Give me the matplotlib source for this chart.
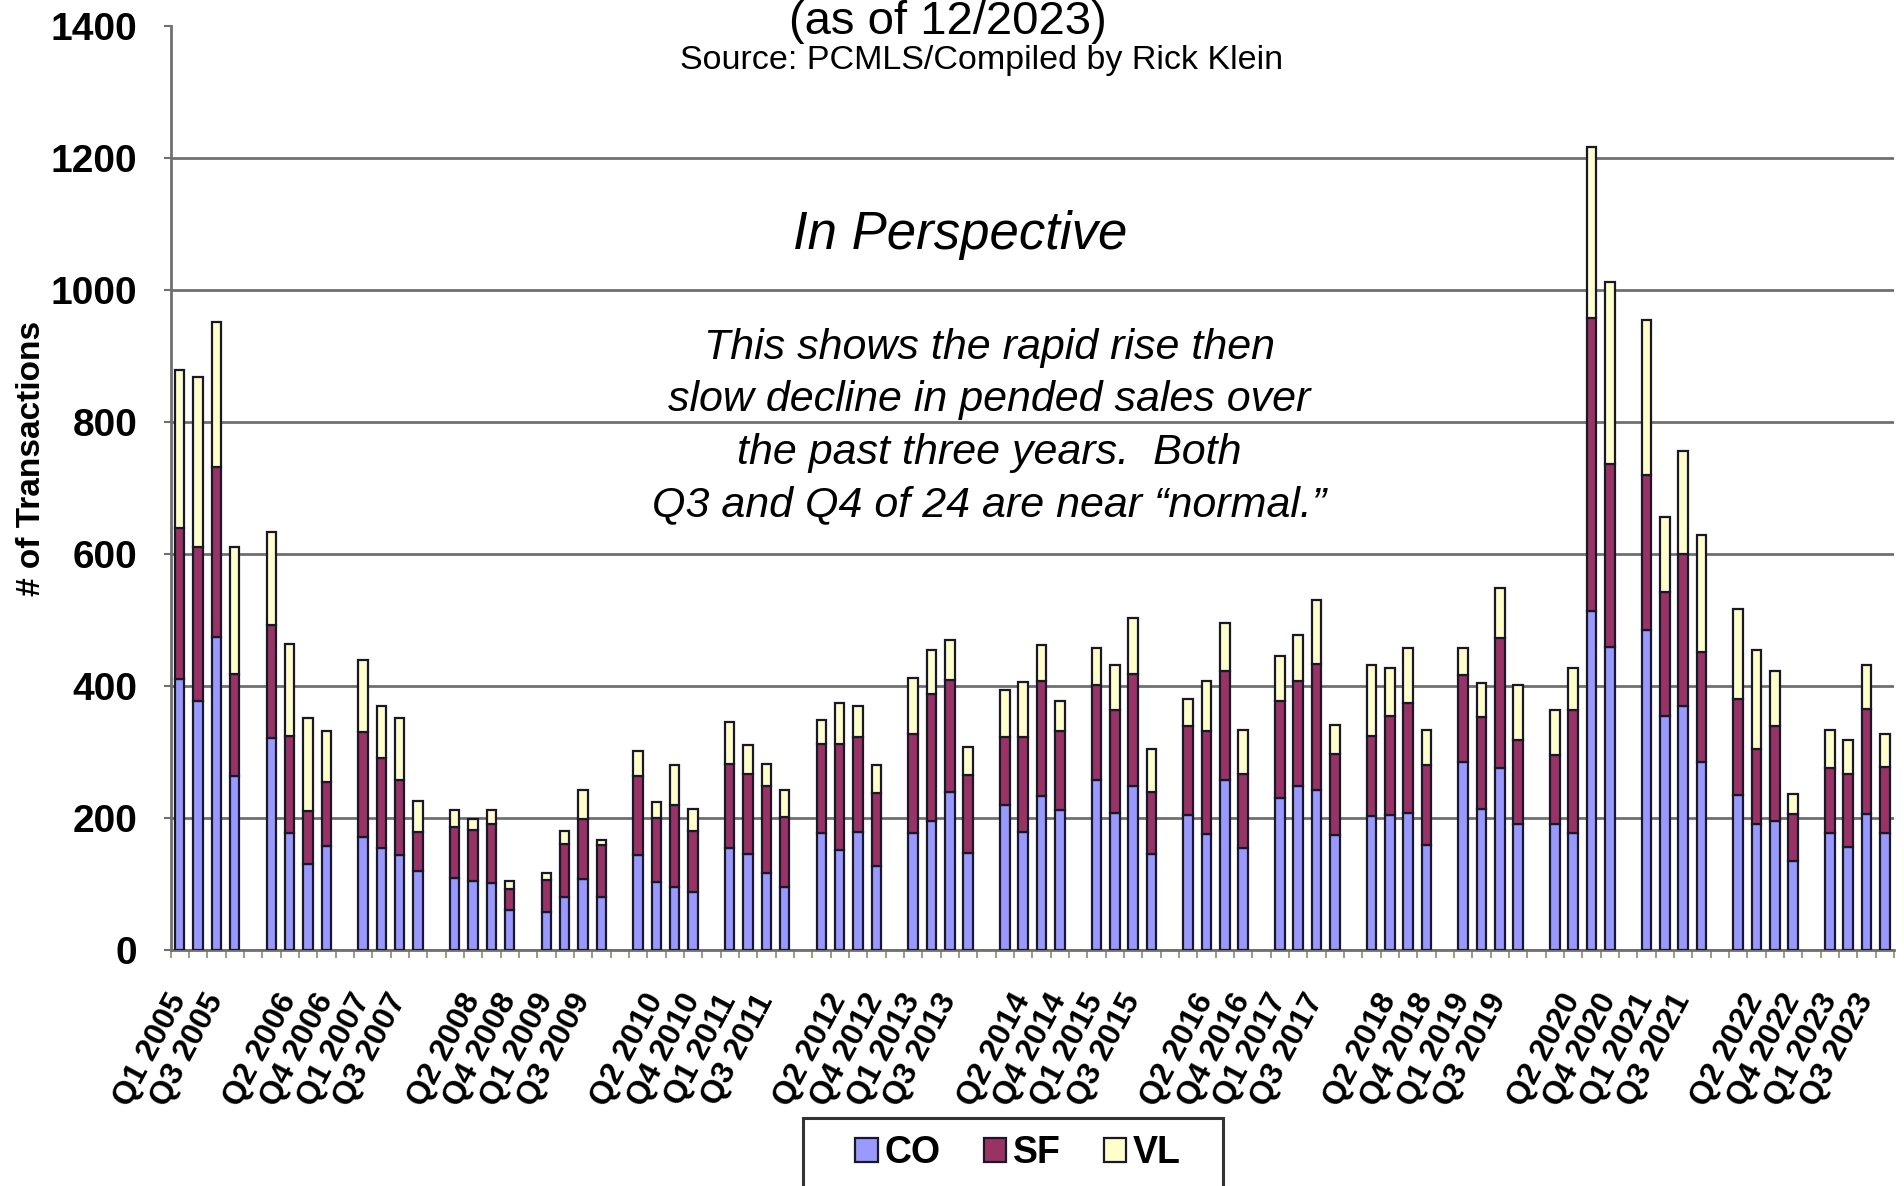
import matplotlib
matplotlib.use('Agg')
import matplotlib.pyplot as plt
import matplotlib.transforms as mtransforms
from matplotlib.patches import Rectangle
import numpy as np

plt.rcParams['font.family'] = ['Liberation Sans', 'DejaVu Sans']

# quarterly pended sales by property type, 2005-2023
years = list(range(2005, 2024))
quarters = ['Q1', 'Q2', 'Q3', 'Q4']

co = [410, 378, 474, 263,  321, 177, 130, 158,  171, 155, 144, 120,  109, 104, 102, 60,
      57, 81, 108, 81,  144, 103, 96, 88,  154, 146, 116, 96,  177, 151, 179, 128,
      177, 196, 239, 147,  219, 179, 234, 212,  258, 207, 249, 146,  204, 176, 258, 154,
      230, 249, 242, 174,  203, 204, 208, 159,  285, 214, 276, 191,  191, 178, 513, 459,
      485, 354, 369, 285,  235, 191, 195, 135,  178, 156, 206, 178]
sf = [230, 233, 258, 155,  171, 147, 81, 96,  159, 136, 113, 59,  78, 78, 89, 32,
      49, 80, 91, 78,  120, 97, 123, 92,  128, 120, 133, 106,  135, 161, 143, 110,
      150, 192, 170, 118,  103, 144, 174, 120,  143, 157, 169, 93,  135, 156, 165, 112,
      148, 159, 191, 123,  122, 151, 167, 121,  132, 139, 197, 127,  104, 185, 444, 278,
      235, 188, 231, 167,  145, 113, 144, 71,  98, 110, 159, 100]
vl = [239, 257, 220, 193,  141, 139, 140, 78,  110, 78, 94, 47,  25, 16, 21, 12,
      10, 20, 44, 7,  37, 25, 61, 34,  63, 44, 33, 41,  37, 63, 47, 42,
      85, 67, 61, 42,  72, 83, 54, 46,  57, 68, 85, 66,  41, 76, 72, 67,
      68, 70, 97, 44,  107, 73, 82, 53,  40, 52, 76, 83,  68, 64, 259, 275,
      234, 114, 156, 177,  137, 151, 84, 31,  58, 52, 67, 50]

# categories: four quarters per year plus an empty slot between years
cats = []
for y in years:
    cats += [f'{q} {y}' for q in quarters] + ['']
cats = cats[:-1]
pos = np.array([i for i, c in enumerate(cats) if c])

co = np.array(co)
sf = np.array(sf)
vl = np.array(vl)

W, H = 1904, 1186
fig = plt.figure(figsize=(W / 100, H / 100), dpi=100)
ax = fig.add_axes([170.5 / W, 1 - 950 / H, (1894 - 170.5) / W, (950 - 26) / H])

edge = '#181828'
ax.bar(pos, co, width=0.52, color='#9999ff', edgecolor=edge, linewidth=1.6, label='CO', zorder=3)
ax.bar(pos, sf, width=0.52, bottom=co, color='#993366', edgecolor=edge, linewidth=1.6, label='SF', zorder=3)
ax.bar(pos, vl, width=0.52, bottom=co + sf, color='#ffffcc', edgecolor=edge, linewidth=1.6, label='VL', zorder=3)

ax.set_xlim(-0.5, len(cats) - 0.5)
ax.set_ylim(0, 1400)
ax.set_yticks(range(0, 1401, 200))
ax.yaxis.grid(True, color='#707070', linewidth=2, zorder=0)
ax.get_ygridlines()[-1].set_visible(False)
ax.set_axisbelow(True)

for s in ['top', 'right']:
    ax.spines[s].set_visible(False)
for s in ['left', 'bottom']:
    ax.spines[s].set_color('#707070')
    ax.spines[s].set_linewidth(2)

ax.set_xticks(range(0, len(cats), 2))
ax.set_xticklabels(cats[::2], rotation=62, ha='right', va='center',
                   rotation_mode='anchor', fontsize=23, fontweight='bold')
shift = mtransforms.ScaledTranslation(13 / 72, 0, fig.dpi_scale_trans)
for lbl in ax.get_xticklabels():
    lbl.set_transform(lbl.get_transform() + shift)
ax.set_xticks(np.arange(-0.5, len(cats), 1), minor=True)
ax.tick_params(axis='x', which='major', length=0, pad=33)
ax.tick_params(axis='x', which='minor', length=6, width=1.2, color='#8a8a70', direction='out')
ax.tick_params(axis='y', length=5, width=1.5, color='#707070', labelsize=28, pad=19)
for t in ax.get_yticklabels():
    t.set_fontweight('bold')

fig.text(32 / W, 1 - 458 / H, '# of Transactions', rotation=90, ha='center', va='center',
         fontsize=24, fontweight='bold')

fig.text(948 / W, 1 - 34 / H, '(as of 12/2023)', ha='center', va='baseline', fontsize=34)
fig.text(982 / W, 1 - 69 / H, 'Source: PCMLS/Compiled by Rick Klein', ha='center',
         va='baseline', fontsize=24.5)
fig.text(960 / W, 1 - 249 / H, 'In Perspective', ha='center', va='baseline',
         fontsize=38, style='italic')
note = ['This shows the rapid rise then',
        'slow decline in pended sales over',
        'the past three years.  Both',
        'Q3 and Q4 of 24 are near \u201cnormal.\u201d']
for i, line in enumerate(note):
    fig.text(989 / W, 1 - (359 + 52.5 * i) / H, line, ha='center', va='baseline',
             fontsize=31, style='italic')

# legend box runs off the bottom edge
fig.patches.append(Rectangle((803 / W, -0.02), 420 / W, 0.02 + (H - 1118) / H,
                             transform=fig.transFigure, facecolor='white',
                             edgecolor='#333333', linewidth=2.2, zorder=1))
leg = fig.legend(loc='center', bbox_to_anchor=(1018 / W, 1 - 1153 / H), ncol=3,
                 prop={'weight': 'bold', 'size': 27}, frameon=False,
                 handlelength=0.6, handleheight=0.6, handletextpad=0.18,
                 columnspacing=1.15, borderpad=0, borderaxespad=0)
leg.set_zorder(2)

fig.savefig('out.png', dpi=100, facecolor='white')
